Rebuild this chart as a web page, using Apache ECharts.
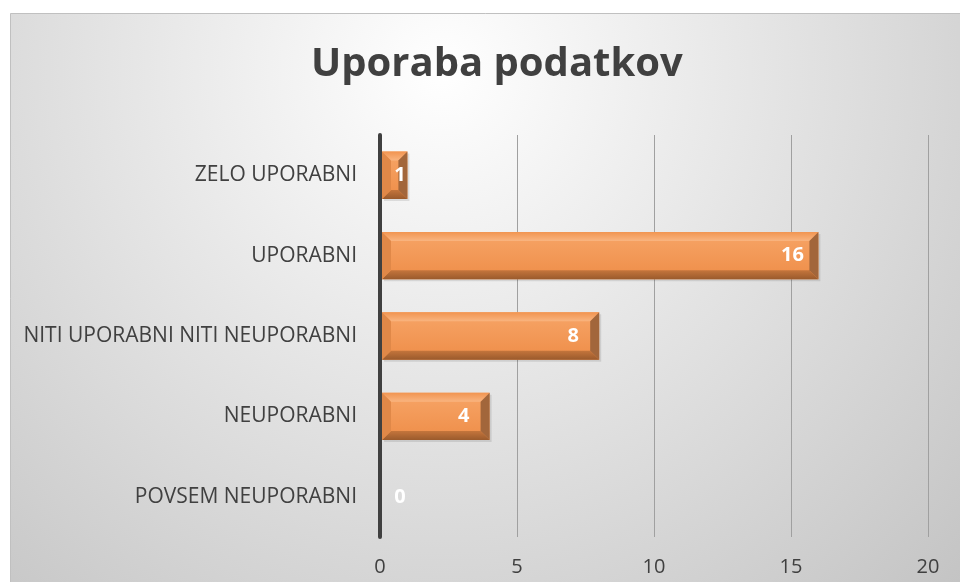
<!DOCTYPE html>
<html lang="sl">
<head>
<meta charset="UTF-8">
<title>Uporaba podatkov</title>
<script src="https://cdn.jsdelivr.net/npm/echarts@6/dist/echarts.min.js"></script>
<style>
  html, body { margin: 0; padding: 0; background: #fff; }
  #chart { width: 960px; height: 582px; }
</style>
</head>
<body>
<div id="chart"></div>
<script>
// podatki (od spodaj navzgor)
var categories = ['POVSEM NEUPORABNI', 'NEUPORABNI', 'NITI UPORABNI NITI NEUPORABNI', 'UPORABNI', 'ZELO UPORABNI'];
var counts = [0, 4, 8, 16, 1];
var xTicks = [0, 5, 10, 15, 20];

var chart = echarts.init(document.getElementById('chart'));
var font = '"Open Sans", "Liberation Sans", sans-serif';

// bar z "bevel" robovi
function renderBevelBar(params, api) {
    var val = api.value(0);
    var idx = api.value(1);
    var p0 = api.coord([0, idx]);
    var p1 = api.coord([val, idx]);
    var h = api.size([0, 1])[1] * 0.59;
    var x0 = p0[0] + 2, x1 = p1[0];
    var yT = p0[1] - h / 2, yB = p0[1] + h / 2;
    var w = x1 - x0;
    var children = [];
    if (w > 0) {
        var b = Math.min(9, w / 2, h / 2);
        children.push({
            type: 'rect',
            shape: { x: x0 + 2, y: yT + 2, width: w, height: h },
            style: { fill: 'rgba(0,0,0,0.10)' }
        });
        children.push({
            type: 'rect',
            shape: { x: x0, y: yT, width: w, height: h },
            style: {
                fill: new echarts.graphic.LinearGradient(0, 0, 0, 1, [
                    { offset: 0, color: '#f7a567' },
                    { offset: 1, color: '#ee8d48' }
                ])
            }
        });
        children.push({
            type: 'polygon',
            shape: { points: [[x0, yT], [x1, yT], [x1 - b, yT + b], [x0 + b, yT + b]] },
            style: {
                fill: new echarts.graphic.LinearGradient(0, 0, 0, 1, [
                    { offset: 0, color: '#f19450' },
                    { offset: 1, color: '#f9b47f' }
                ])
            }
        });
        children.push({
            type: 'polygon',
            shape: { points: [[x0, yB], [x1, yB], [x1 - b, yB - b], [x0 + b, yB - b]] },
            style: {
                fill: new echarts.graphic.LinearGradient(0, 0, 0, 1, [
                    { offset: 0, color: '#c4753c' },
                    { offset: 1, color: '#9a5a2c' }
                ])
            }
        });
        children.push({
            type: 'polygon',
            shape: { points: [[x0, yT], [x0 + b, yT + b], [x0 + b, yB - b], [x0, yB]] },
            style: { fill: '#e08848' }
        });
        children.push({
            type: 'polygon',
            shape: { points: [[x1, yT], [x1 - b, yT + b], [x1 - b, yB - b], [x1, yB]] },
            style: { fill: '#a2663b' }
        });
    }
    children.push({
        type: 'text',
        style: {
            text: String(val),
            x: Math.max(x1 - 26, x0 + 18),
            y: p0[1],
            fill: '#ffffff',
            font: 'bold 20px ' + font,
            align: 'center',
            verticalAlign: 'middle'
        }
    });
    return { type: 'group', children: children };
}

var option = {
    animation: false,
    graphic: [{
        type: 'rect',
        z: -10,
        silent: true,
        shape: { x: 10.5, y: 13.5, width: 960, height: 580 },
        style: {
            fill: new echarts.graphic.RadialGradient(0.45, 0.1, 1.25, [
                { offset: 0, color: '#ffffff' },
                { offset: 1, color: '#c4c4c4' }
            ]),
            stroke: '#c0c0c0',
            lineWidth: 1
        }
    }],
    title: {
        text: 'Uporaba podatkov',
        left: 306,
        top: 40,
        textStyle: { fontFamily: font, fontSize: 40, fontWeight: 'bold', color: '#404040' }
    },
    grid: { left: 380, right: 32, top: 135, bottom: 45 },
    xAxis: {
        type: 'value',
        min: 0,
        max: 20,
        interval: 5,
        axisLine: { show: false },
        axisTick: { show: false },
        axisLabel: {
            margin: 20,
            fontFamily: font,
            fontSize: 20,
            color: '#404040',
            formatter: function (v) { return xTicks.indexOf(v) >= 0 ? String(v) : ''; }
        },
        splitLine: { lineStyle: { color: '#a0a0a0', width: 1 } }
    },
    yAxis: {
        type: 'category',
        data: categories,
        axisTick: { show: false },
        axisLine: { lineStyle: { color: '#404040', width: 4 } },
        axisLabel: { margin: 23, fontFamily: font, fontSize: 21, color: '#404040' },
        z: 5
    },
    series: [{
        type: 'custom',
        renderItem: renderBevelBar,
        encode: { x: 0, y: 1 },
        data: counts.map(function (v, i) { return [v, i]; }),
        z: 3
    }]
};

chart.setOption(option);
</script>
</body>
</html>
